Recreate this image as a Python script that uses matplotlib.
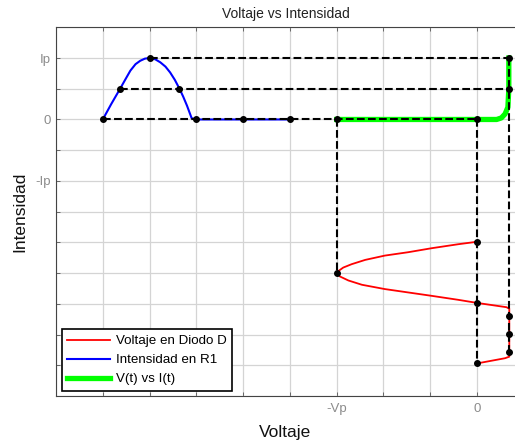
import matplotlib
matplotlib.use("Agg")
import matplotlib.pyplot as plt

plt.rcParams['font.family'] = ['Liberation Sans', 'DejaVu Sans']

# ---- data ----
# blue: current in R1 (x = time axis, y = current)
blue_x = [-8.0, -7.82, -7.63, -7.5, -7.41, -7.3, -7.2, -7.1, -7.0, -6.88, -6.77,
          -6.66, -6.56, -6.46, -6.36, -6.28, -6.2, -6.1, -6.0, -5.0, -4.0]
blue_y = [0.0, 0.5, 1.0, 1.35, 1.59, 1.80, 1.91, 1.98, 2.0, 1.96, 1.86,
          1.72, 1.53, 1.29, 1.0, 0.74, 0.45, 0.04, 0.0, 0.0, 0.0]

# red: diode voltage (x = voltage, y = time axis)
red_x = [0.0, -0.40, -0.97, -1.47, -1.97, -2.39, -2.68, -2.86, -2.96, -3.0,
         -2.93, -2.75, -2.46, -1.97, -1.47, -0.97, -0.40, 0.0,
         0.63, 0.69, 0.69, 0.6, 0.0]
red_y = [-3.98, -4.06, -4.19, -4.32, -4.43, -4.57, -4.71, -4.82, -4.93, -5.0,
         -5.11, -5.24, -5.38, -5.52, -5.63, -5.74, -5.87, -5.97,
         -6.11, -6.16, -7.72, -7.77, -7.94]

# green: V(t) vs I(t)
green_x = [-3.0, 0.0, 0.42, 0.52, 0.6, 0.66, 0.68, 0.68]
green_y = [0.0, 0.0, 0.0, 0.05, 0.18, 0.4, 1.0, 2.0]

# dashed guide segments: (x0, x1, y0, y1)
guide_x0 = [-8.0, -7.63, -7.0, -3.0, 0.0, 0.68]
guide_x1 = [0.0, 0.68, 0.68, -3.0, 0.0, 0.68]
guide_y0 = [0.0, 1.0, 2.0, 0.0, 0.0, 2.0]
guide_y1 = [0.0, 1.0, 2.0, -5.0, -7.94, -7.56]

# marker points
dot_x = [-8.0, -7.63, -7.0, -6.36, -6.0, -5.0, -4.0, -3.0, 0.0, 0.68, 0.68,
         0.0, -3.0, 0.0, 0.0, 0.69, 0.69, 0.69]
dot_y = [0.0, 1.0, 2.0, 1.0, 0.0, 0.0, 0.0, 0.0, 0.0, 2.0, 1.0,
         -3.98, -5.0, -5.97, -7.94, -6.38, -6.97, -7.56]

# ticks
xtick_pos = [-9, -8, -7, -6, -5, -4, -3, -2, -1, 0]
xtick_lab = ['', '', '', '', '', '', '-Vp', '', '', '0']
ytick_pos = [-9, -8, -7, -6, -5, -4, -3, -2, -1, 0, 1, 2, 3]
ytick_lab = ['', '', '', '', '', '', '', '-Ip', '', '0', '', 'Ip', '']

legend_labels = ['Voltaje en Diodo D', 'Intensidad en R1', 'V(t) vs I(t)']

# ---- figure ----
fig = plt.figure(figsize=(5.15, 4.43), dpi=100)
ax = fig.add_axes([56 / 515, 47 / 443, 1 - 56 / 515, 368.7 / 443])

ax.plot(red_x, red_y, color='#ff0000', lw=1.3, label=legend_labels[0], zorder=3)
ax.plot(blue_x, blue_y, color='#0000ff', lw=1.5, label=legend_labels[1], zorder=3)
ax.plot(green_x, green_y, color='#00ff00', lw=3.8, label=legend_labels[2], zorder=3,
        solid_joinstyle='round')

for a, b, c, d in zip(guide_x0, guide_x1, guide_y0, guide_y1):
    ax.plot([a, b], [c, d], color='black', lw=1.5, ls='--', zorder=4)

ax.plot(dot_x, dot_y, 'o', color='black', ms=4, zorder=5)

ax.set_xlim(-9, (515 - 477) / 46.8)
ax.set_ylim(-9, 3)
ax.set_xticks(xtick_pos)
ax.set_xticklabels(xtick_lab)
ax.set_yticks(ytick_pos)
ax.set_yticklabels(ytick_lab)
ax.grid(True, color='#d4d4d4', lw=0.9)
ax.set_axisbelow(True)
ax.tick_params(direction='in', length=3, width=0.6, colors='#555555',
               labelcolor='#8c8c8c', labelsize=9.5, top=True, right=False)
ax.tick_params(axis='x', pad=5)
for s in ['left', 'bottom', 'top']:
    ax.spines[s].set_color('#444444')
    ax.spines[s].set_linewidth(0.8)
ax.spines['right'].set_visible(False)

ax.set_title('Voltaje vs Intensidad', fontsize=10, color='#222222', pad=7)
ax.set_xlabel('Voltaje', fontsize=12.5, color='#111111', labelpad=7)
ax.set_ylabel('Intensidad', fontsize=12.5, color='#111111', labelpad=6)

leg = ax.legend(loc='lower left', bbox_to_anchor=(0.012, 0.014), borderaxespad=0,
                fancybox=False, edgecolor='black', framealpha=1, fontsize=9.6,
                handlelength=3.2, handletextpad=0.45, labelspacing=0.5,
                borderpad=0.42)
leg.get_frame().set_linewidth(1.2)

fig.savefig('out.png', dpi=100)
